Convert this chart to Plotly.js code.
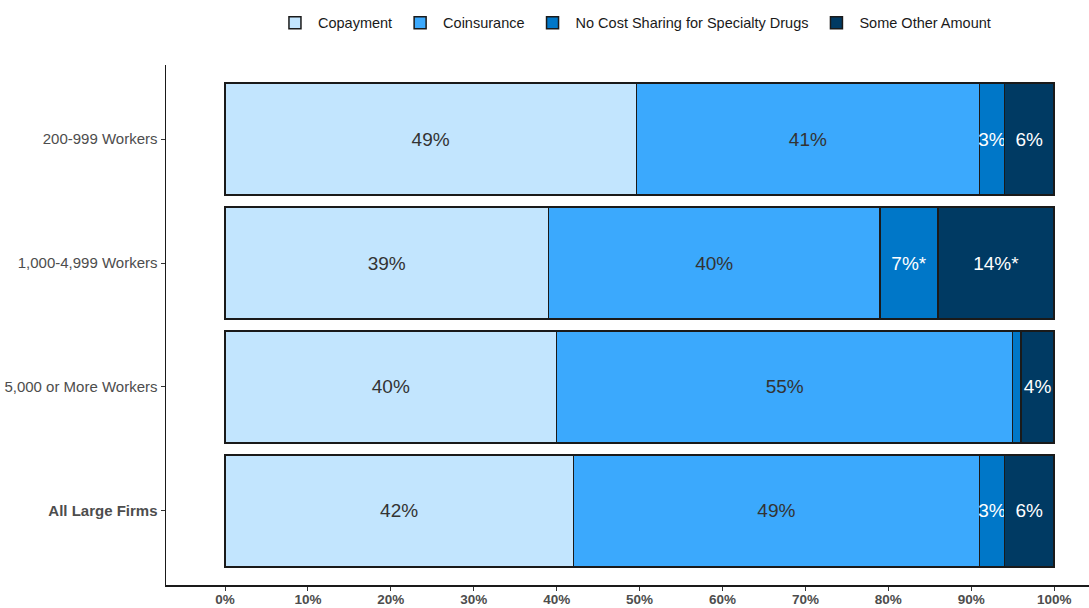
<!DOCTYPE html>
<html>
<head>
<meta charset="utf-8">
<script src="https://cdn.plot.ly/plotly-3.0.1.min.js"></script>
<style>html,body{margin:0;padding:0;background:#fff;}#chart{width:1089px;height:608px;}</style>
</head>
<body>
<div id="chart"></div>
<script>
const categories = ["200-999 Workers", "1,000-4,999 Workers", "5,000 or More Workers", "All Large Firms"];
const categoryLabels = ["200-999 Workers", "1,000-4,999 Workers", "5,000 or More Workers", "<b>All Large Firms</b>"];
const seriesNames = ["Copayment", "Coinsurance", "No Cost Sharing for Specialty Drugs", "Some Other Amount"];
const copayment = [49.6, 39, 40, 42];
const coinsurance = [41.4, 40, 55, 49];
const noCost = [3, 7, 1, 3];
const otherAmount = [6, 14, 4, 6];
const copaymentLabels = ["49%", "39%", "40%", "42%"];
const coinsuranceLabels = ["41%", "40%", "55%", "49%"];
const noCostLabels = ["3%", "7%*", "", "3%"];
const otherLabels = ["6%", "14%*", "4%", "6%"];
const xTickVals = [0, 10, 20, 30, 40, 50, 60, 70, 80, 90, 100];
const xTickText = ["0%", "10%", "20%", "30%", "40%", "50%", "60%", "70%", "80%", "90%", "100%"];

const colors = ["#C2E5FE", "#3BA9FD", "#0077C8", "#003A63"];
const textColors = ["#333333", "#333333", "#ffffff", "#ffffff"];
const values = [copayment, coinsurance, noCost, otherAmount];
const labels = [copaymentLabels, coinsuranceLabels, noCostLabels, otherLabels];
const FONT = "'Liberation Sans', Arial, sans-serif";

const traces = values.map((v, i) => ({
  type: "bar",
  orientation: "h",
  name: seriesNames[i],
  y: categories,
  x: v,
  text: labels[i],
  textposition: "inside",
  insidetextanchor: "middle",
  textangle: 0,
  textfont: {family: FONT, size: 19, color: textColors[i]},
  marker: {color: colors[i], line: {color: "#1a1a1a", width: 1.5}},
  width: 0.9,
  hoverinfo: "skip"
}));

const layout = {
  width: 1089, height: 608,
  margin: {l: 166, r: 0, t: 65, b: 23, pad: 0},
  paper_bgcolor: "#ffffff", plot_bgcolor: "#ffffff",
  barmode: "stack",
  bargap: 0.1,
  uniformtext: {minsize: 19, mode: "show"},
  font: {family: FONT, color: "#4d4d4d"},
  showlegend: true,
  legend: {
    orientation: "h", x: 0.507, xanchor: "center", y: 1.081, yanchor: "middle",
    font: {size: 14.5, color: "#1a1a1a", family: FONT}, traceorder: "normal",
    itemwidth: 36, itemclick: false
  },
  xaxis: {
    range: [-7.12, 104.2],
    tickvals: xTickVals, ticktext: xTickText,
    tickfont: {size: 13.5, color: "#4d4d4d", family: FONT, weight: "bold"},
    ticklabelstandoff: -3,
    showgrid: false, zeroline: false,
    showline: true, linecolor: "#1a1a1a", linewidth: 1.5,
    ticks: "outside", ticklen: 4, tickcolor: "#333333", tickwidth: 1,
    automargin: false, fixedrange: true
  },
  yaxis: {
    type: "category",
    categoryorder: "array", categoryarray: categories,
    tickvals: categories, ticktext: categoryLabels,
    range: [3.597, -0.597],
    tickfont: {size: 15, color: "#4d4d4d", family: FONT},
    showgrid: false, zeroline: false,
    showline: true, linecolor: "#1a1a1a", linewidth: 1.5,
    ticks: "outside", ticklen: 4, tickcolor: "#333333", tickwidth: 1,
    automargin: false, fixedrange: true
  }
};

Plotly.newPlot("chart", traces, layout, {displayModeBar: false, staticPlot: true});
</script>
</body>
</html>
